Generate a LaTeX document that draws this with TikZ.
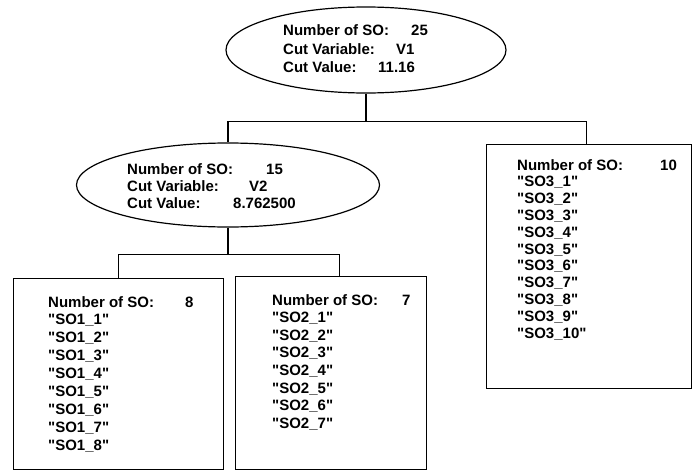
\documentclass[tikz,border=0pt]{standalone}
\usepackage{fontspec}
\setmainfont{Liberation Sans}
\usetikzlibrary{shapes.geometric,positioning,calc}
\newcommand{\sodq}{\textquotedbl}
\tikzset{cutnode/.style={draw,ellipse,line width=1.2pt,inner sep=0pt},leafbox/.style={draw,rectangle,line width=1.2pt,inner sep=0pt,anchor=north west},lbl/.style={anchor=base west,inner sep=0pt,font=\bfseries\fontsize{15}{18}\selectfont},link/.style={line width=1.2pt}}

\begin{document}
\begin{tikzpicture}[x=1pt,y=-1pt]
\useasboundingbox (0,0) rectangle (693,471);
\node[cutnode,minimum width=280pt,minimum height=86pt] (root) at (366,50) {};
\node[cutnode,minimum width=303pt,minimum height=84pt] (cut2) at (228,185) {};
\node[leafbox,minimum width=210pt,minimum height=191pt] (leaf1) at (13,278) {};
\node[leafbox,minimum width=191pt,minimum height=193pt] (leaf2) at (235,276) {};
\node[leafbox,minimum width=205pt,minimum height=244pt] (leaf3) at (486,144) {};
\foreach \i/\t/\vx/\v in {1/Number of SO:/411/25,2/Cut Variable:/396/V1,3/Cut Value:/378/11.16}{
  \node[lbl] (root-t\i) at (283,17+18.5*\i) {\t};
  \node[lbl] (root-v\i) at (\vx,17+18.5*\i) {\v};}
\foreach \i/\t/\vx/\v in {1/Number of SO:/266/15,2/Cut Variable:/249/V2,3/Cut Value:/233/8.762500}{
  \node[lbl] (cut2-t\i) at (127,157+17*\i) {\t};
  \node[lbl] (cut2-v\i) at (\vx,157+17*\i) {\v};}
\node[lbl] (leaf1-n) at (48,307) {Number of SO:};
\node[lbl] (leaf1-v) at (185,307) {8};
\foreach \i in {1,...,8}{\node[lbl] (leaf1-\i) at (48,307+17.9*\i) {\sodq SO1\_\i\sodq};}
\node[lbl] (leaf2-n) at (272,305) {Number of SO:};
\node[lbl] (leaf2-v) at (402,305) {7};
\foreach \i in {1,...,7}{\node[lbl] (leaf2-\i) at (272,305+17.6*\i) {\sodq SO2\_\i\sodq};}
\node[lbl] (leaf3-n) at (517,170) {Number of SO:};
\node[lbl] (leaf3-v) at (660,170) {10};
\foreach \i in {1,...,10}{\node[lbl] (leaf3-\i) at (517,170+16.8*\i) {\sodq SO3\_\i\sodq};}
\draw[link] (root.south) -- ++(0,28) coordinate (bus1);
\draw[link] (bus1) -| (cut2.north);
\draw[link] (bus1) -| ([xshift=-3]leaf3.north);
\draw[link] (cut2.south) -- ++(0,27) coordinate (bus2);
\draw[link] (bus2) -| (leaf1.north);
\draw[link] (bus2) -| ([xshift=8]leaf2.north);
\end{tikzpicture}
\end{document}
